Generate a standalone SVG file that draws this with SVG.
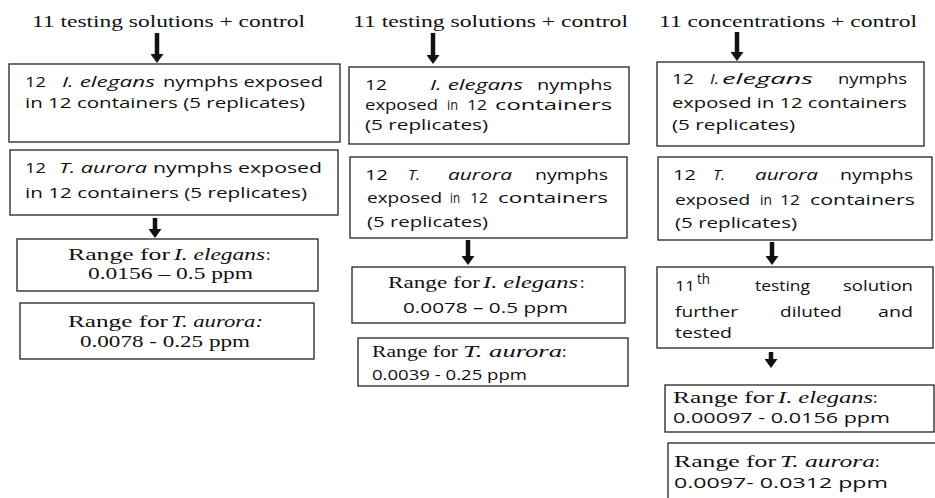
<svg xmlns="http://www.w3.org/2000/svg" width="935" height="498" viewBox="0 0 935 498">
<style>
text{fill:#111;}
.t{font-family:"Liberation Serif","Times New Roman",serif;font-size:17.5px;}
.r{font-family:"Liberation Serif","Times New Roman",serif;font-size:16px;}
.s{font-family:"Open Sans","Noto Sans",sans-serif;font-size:14.5px;}
.i{font-style:italic;}
.b{fill:#fff;stroke:#222;stroke-width:1.3;}
.a{stroke:#111;stroke-width:4.5;fill:none;marker-end:url(#ah);}
</style>
<defs>
<marker id="ah" markerUnits="userSpaceOnUse" markerWidth="9" markerHeight="13" viewBox="0 0 9 13" refX="3" refY="6.5" orient="auto">
<path d="M0,0 L9,6.5 L0,13 z" fill="#111"/>
</marker>
<clipPath id="cl4"><rect x="358" y="338" width="270" height="45"/></clipPath>
</defs>
<rect width="935" height="498" fill="#fff"/>

<g id="connectors">
<line class="a" x1="157" y1="33" x2="157" y2="57"/>
<line class="a" x1="155" y1="218" x2="155" y2="232"/>
<line class="a" x1="433" y1="33" x2="433" y2="58"/>
<line class="a" x1="468" y1="240" x2="468" y2="259"/>
<line class="a" x1="737" y1="32" x2="737" y2="55"/>
<line class="a" x1="772" y1="242" x2="772" y2="259"/>
<line class="a" x1="771" y1="352" x2="771" y2="362"/>
</g>

<!-- Column 1 -->
<g id="title1"><text class="t" x="32" y="27" textLength="273" lengthAdjust="spacingAndGlyphs">11 testing solutions + control</text></g>
<g id="c1n1">
<rect class="b" x="9" y="64" width="331" height="78"/>
<text class="s" x="25" y="87" textLength="21" lengthAdjust="spacingAndGlyphs">12</text>
<text class="s i" x="62" y="87" textLength="93" lengthAdjust="spacingAndGlyphs">I. elegans</text>
<text class="s" x="163" y="87" textLength="160" lengthAdjust="spacingAndGlyphs">nymphs exposed</text>
<text class="s" x="25" y="108" textLength="280" lengthAdjust="spacingAndGlyphs">in 12 containers (5 replicates)</text>
</g>
<g id="c1n2">
<rect class="b" x="10" y="150" width="328" height="65"/>
<text class="s" x="25" y="173" textLength="21" lengthAdjust="spacingAndGlyphs">12</text>
<text class="s i" x="59" y="173" textLength="88" lengthAdjust="spacingAndGlyphs">T. aurora</text>
<text class="s" x="153" y="173" textLength="169" lengthAdjust="spacingAndGlyphs">nymphs exposed</text>
<text class="s" x="25" y="198" textLength="282" lengthAdjust="spacingAndGlyphs">in 12 containers (5 replicates)</text>
</g>
<g id="c1n3">
<rect class="b" x="17" y="239" width="301" height="52"/>
<text class="r" x="68" y="260" textLength="102" lengthAdjust="spacingAndGlyphs">Range for</text>
<text class="r i" x="174" y="260" textLength="91" lengthAdjust="spacingAndGlyphs">I. elegans</text>
<text class="r" x="266" y="260">:</text>
<text class="r" x="88" y="279" textLength="165" lengthAdjust="spacingAndGlyphs">0.0156 – 0.5 ppm</text>
</g>
<g id="c1n4">
<rect class="b" x="20" y="303" width="294" height="56"/>
<text class="r" x="68" y="327" textLength="100" lengthAdjust="spacingAndGlyphs">Range for</text>
<text class="r i" x="171" y="327" textLength="92" lengthAdjust="spacingAndGlyphs">T. aurora:</text>
<text class="r" x="80" y="347" textLength="170" lengthAdjust="spacingAndGlyphs">0.0078 - 0.25 ppm</text>
</g>

<!-- Column 2 -->
<g id="title2"><text class="t" x="353" y="27" textLength="275" lengthAdjust="spacingAndGlyphs">11 testing solutions + control</text></g>
<g id="c2n1">
<rect class="b" x="349" y="67" width="280" height="77"/>
<text class="s" x="365" y="90" textLength="22" lengthAdjust="spacingAndGlyphs">12</text>
<text class="s i" x="430" y="90" textLength="93" lengthAdjust="spacingAndGlyphs">I. elegans</text>
<text class="s" x="537" y="90" textLength="75" lengthAdjust="spacingAndGlyphs">nymphs</text>
<text class="s" x="365" y="110" textLength="73" lengthAdjust="spacingAndGlyphs">exposed</text>
<text class="s" x="447" y="110" textLength="11" lengthAdjust="spacingAndGlyphs">in</text>
<text class="s" x="467" y="110" textLength="20" lengthAdjust="spacingAndGlyphs">12</text>
<text class="s" x="495" y="110" textLength="117" lengthAdjust="spacingAndGlyphs">containers</text>
<text class="s" x="365" y="130" textLength="123" lengthAdjust="spacingAndGlyphs">(5 replicates)</text>
</g>
<g id="c2n2">
<rect class="b" x="350" y="157" width="277" height="81"/>
<text class="s" x="365" y="180" textLength="23" lengthAdjust="spacingAndGlyphs">12</text>
<text class="s i" x="408" y="180" textLength="12" lengthAdjust="spacingAndGlyphs">T.</text>
<text class="s i" x="448" y="180" textLength="64" lengthAdjust="spacingAndGlyphs">aurora</text>
<text class="s" x="535" y="180" textLength="73" lengthAdjust="spacingAndGlyphs">nymphs</text>
<text class="s" x="367" y="203" textLength="75" lengthAdjust="spacingAndGlyphs">exposed</text>
<text class="s" x="450" y="203" textLength="10" lengthAdjust="spacingAndGlyphs">in</text>
<text class="s" x="470" y="203" textLength="18" lengthAdjust="spacingAndGlyphs">12</text>
<text class="s" x="498" y="203" textLength="110" lengthAdjust="spacingAndGlyphs">containers</text>
<text class="s" x="367" y="227" textLength="121" lengthAdjust="spacingAndGlyphs">(5 replicates)</text>
</g>
<g id="c2n3">
<rect class="b" x="352" y="267" width="273" height="56"/>
<text class="r" x="388" y="288" textLength="92" lengthAdjust="spacingAndGlyphs">Range for</text>
<text class="r i" x="483" y="288" textLength="95" lengthAdjust="spacingAndGlyphs">I. elegans</text>
<text class="r" x="580" y="288">:</text>
<text class="s" x="403" y="313" textLength="165" lengthAdjust="spacingAndGlyphs">0.0078 – 0.5 ppm</text>
</g>
<g id="c2n4">
<rect class="b" x="358" y="338" width="270" height="48"/>
<text class="r" x="372" y="357" textLength="86" lengthAdjust="spacingAndGlyphs">Range for</text>
<text class="r i" x="463" y="357" textLength="99" lengthAdjust="spacingAndGlyphs">T. aurora</text>
<text class="r" x="562" y="357">:</text>
<text class="s" x="372" y="380" textLength="155" lengthAdjust="spacingAndGlyphs" clip-path="url(#cl4)">0.0039 - 0.25 ppm</text>
</g>

<!-- Column 3 -->
<g id="title3"><text class="t" x="659" y="27" textLength="258" lengthAdjust="spacingAndGlyphs">11 concentrations + control</text></g>
<g id="c3n1">
<rect class="b" x="657" y="62" width="267" height="84"/>
<text class="s" x="672" y="84" textLength="22" lengthAdjust="spacingAndGlyphs">12</text>
<text class="s i" x="710" y="84" textLength="9" lengthAdjust="spacingAndGlyphs">I.</text>
<text class="s i" x="722" y="84" textLength="91" lengthAdjust="spacingAndGlyphs">elegans</text>
<text class="s" x="838" y="84" textLength="69" lengthAdjust="spacingAndGlyphs">nymphs</text>
<text class="s" x="672" y="108" textLength="235" lengthAdjust="spacingAndGlyphs">exposed in 12 containers</text>
<text class="s" x="672" y="130" textLength="123" lengthAdjust="spacingAndGlyphs">(5 replicates)</text>
</g>
<g id="c3n2">
<rect class="b" x="658" y="157" width="274" height="83"/>
<text class="s" x="673" y="180" textLength="23" lengthAdjust="spacingAndGlyphs">12</text>
<text class="s i" x="713" y="180" textLength="12" lengthAdjust="spacingAndGlyphs">T.</text>
<text class="s i" x="755" y="180" textLength="63" lengthAdjust="spacingAndGlyphs">aurora</text>
<text class="s" x="840" y="180" textLength="73" lengthAdjust="spacingAndGlyphs">nymphs</text>
<text class="s" x="675" y="205" textLength="75" lengthAdjust="spacingAndGlyphs">exposed</text>
<text class="s" x="760" y="205" textLength="12" lengthAdjust="spacingAndGlyphs">in</text>
<text class="s" x="780" y="205" textLength="20" lengthAdjust="spacingAndGlyphs">12</text>
<text class="s" x="810" y="205" textLength="105" lengthAdjust="spacingAndGlyphs">containers</text>
<text class="s" x="675" y="228" textLength="122" lengthAdjust="spacingAndGlyphs">(5 replicates)</text>
</g>
<g id="c3n3">
<rect class="b" x="657" y="267" width="276" height="81"/>
<text class="s" x="675" y="291" textLength="20" lengthAdjust="spacingAndGlyphs">11</text>
<text class="s" x="697" y="284" font-size="10" textLength="13" lengthAdjust="spacingAndGlyphs">th</text>
<text class="s" x="755" y="291" textLength="55" lengthAdjust="spacingAndGlyphs">testing</text>
<text class="s" x="843" y="291" textLength="70" lengthAdjust="spacingAndGlyphs">solution</text>
<text class="s" x="675" y="317" textLength="63" lengthAdjust="spacingAndGlyphs">further</text>
<text class="s" x="780" y="317" textLength="62" lengthAdjust="spacingAndGlyphs">diluted</text>
<text class="s" x="878" y="317" textLength="35" lengthAdjust="spacingAndGlyphs">and</text>
<text class="s" x="675" y="338" textLength="57" lengthAdjust="spacingAndGlyphs">tested</text>
</g>
<g id="c3n4">
<rect class="b" x="665" y="385" width="269" height="47"/>
<text class="r" x="673" y="403" textLength="101" lengthAdjust="spacingAndGlyphs">Range for</text>
<text class="r i" x="778" y="403" textLength="95" lengthAdjust="spacingAndGlyphs">I. elegans</text>
<text class="r" x="873" y="403">:</text>
<text class="s" x="673" y="423" textLength="217" lengthAdjust="spacingAndGlyphs">0.00097 - 0.0156 ppm</text>
</g>
<g id="c3n5">
<rect class="b" x="668" y="443" width="275" height="62"/>
<text class="r" x="674" y="467" textLength="102" lengthAdjust="spacingAndGlyphs">Range for</text>
<text class="r i" x="780" y="467" textLength="95" lengthAdjust="spacingAndGlyphs">T. aurora</text>
<text class="r" x="875" y="467">:</text>
<text class="s" x="674" y="488" textLength="214" lengthAdjust="spacingAndGlyphs">0.0097- 0.0312 ppm</text>
</g>
</svg>
